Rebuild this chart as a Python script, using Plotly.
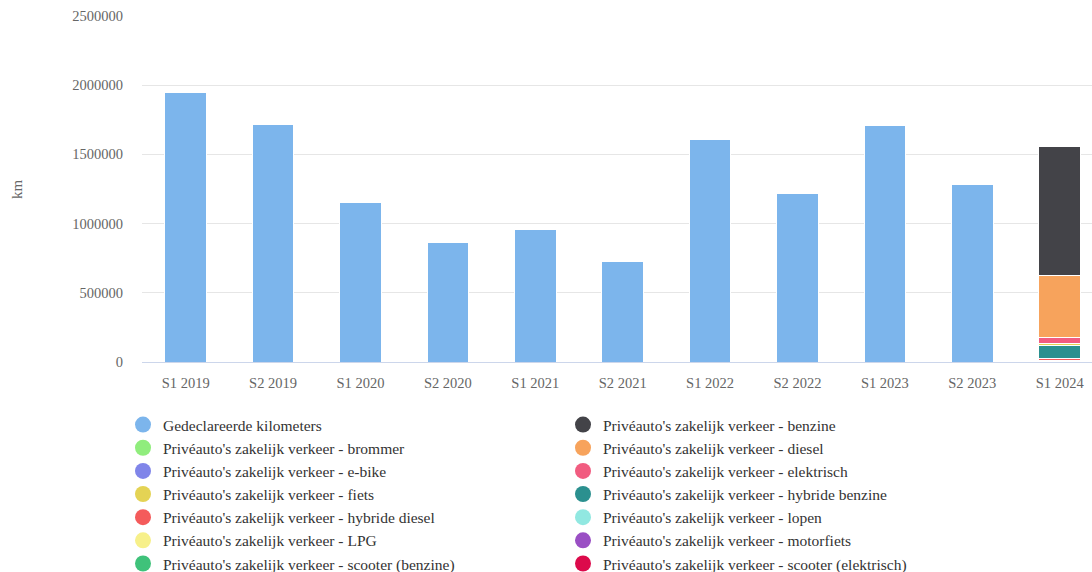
import plotly.graph_objects as go

categories = ["S1 2019", "S2 2019", "S1 2020", "S2 2020", "S1 2021", "S2 2021",
              "S1 2022", "S2 2022", "S1 2023", "S2 2023", "S1 2024"]

gedeclareerde = [1945000, 1717000, 1149000, 866000, 957000, 723000,
                 1611000, 1214000, 1707000, 1284000, None]

# S1 2024 breakdown (only period with per-vehicle data)
benzine = 930000
brommer = None
diesel = 447000
ebike = None
elektrisch = 43000
fiets = 14000
hybride_benzine = 96000
hybride_diesel = 14000
lopen = 5000
lpg = None
motorfiets = 6000
scooter_benzine = None
scooter_elektrisch = None

prefix = "Privéauto's zakelijk verkeer - "
series = [
    ("Gedeclareerde kilometers", gedeclareerde, "#7cb5ec"),
    (prefix + "benzine", benzine, "#434348"),
    (prefix + "brommer", brommer, "#90ed7d"),
    (prefix + "diesel", diesel, "#f7a35c"),
    (prefix + "e-bike", ebike, "#8085e9"),
    (prefix + "elektrisch", elektrisch, "#f15c80"),
    (prefix + "fiets", fiets, "#e4d354"),
    (prefix + "hybride benzine", hybride_benzine, "#2b908f"),
    (prefix + "hybride diesel", hybride_diesel, "#f45b5b"),
    (prefix + "lopen", lopen, "#91e8e1"),
    (prefix + "LPG", lpg, "#f7f08a"),
    (prefix + "motorfiets", motorfiets, "#9a4fc4"),
    (prefix + "scooter (benzine)", scooter_benzine, "#3fc27a"),
    (prefix + "scooter (elektrisch)", scooter_elektrisch, "#dc0a4b"),
]

FONT = "Liberation Serif, Times New Roman, serif"

fig = go.Figure()

# Highcharts stacks the first series on top -> add in reverse order
for name, vals, color in reversed(series):
    if isinstance(vals, list):
        y = vals
    else:
        y = [None] * (len(categories) - 1) + [vals]
    fig.add_trace(go.Bar(
        x=categories, y=y, name=name, legendgroup=name, showlegend=False,
        marker=dict(color=color, line=dict(color="#ffffff", width=1)),
        width=0.475,
        hovertemplate="%{x}<br>" + name + ": %{y}<extra></extra>",
    ))

# legend entries with circular symbols, in original order
for name, vals, color in series:
    fig.add_trace(go.Scatter(
        x=[None], y=[None], mode="markers", name=name, legendgroup=name,
        marker=dict(color=color, size=16, symbol="circle"),
        showlegend=True, hoverinfo="skip",
    ))

fig.update_layout(
    width=1092, height=572,
    margin=dict(l=142, r=0, t=16, b=210),
    paper_bgcolor="white", plot_bgcolor="white",
    barmode="stack",
    font=dict(family=FONT, color="#333333"),
    showlegend=True,
    legend=dict(
        orientation="h", xref="container", yref="container",
        x=123 / 1092, y=1 - 408 / 572, xanchor="left", yanchor="top",
        entrywidth=395, entrywidthmode="pixels",
        font=dict(family=FONT, size=15.5, color="#333333"),
        traceorder="normal", itemsizing="trace",
        bgcolor="rgba(0,0,0,0)",
    ),
    xaxis=dict(
        type="category", range=[-0.5, 10.37],
        showgrid=False, showline=True, linecolor="#ccd6eb", linewidth=1,
        ticks="", tickfont=dict(family=FONT, size=14.5, color="#666666"),
        ticklabelstandoff=8, fixedrange=True,
    ),
    yaxis=dict(
        range=[0, 2500000], tick0=0, dtick=500000, tickformat="d",
        showgrid=True, gridcolor="#e6e6e6", gridwidth=1,
        zeroline=False, showline=False, ticks="",
        tickfont=dict(family=FONT, size=14.5, color="#666666"),
        ticklabelstandoff=18, fixedrange=True,
    ),
    annotations=[dict(
        text="km", xref="paper", yref="paper", x=(17 - 142) / 950, y=0.5,
        xanchor="center", yanchor="middle", showarrow=False, textangle=-90,
        font=dict(family=FONT, size=15, color="#666666"),
    )],
)

fig.write_html(
    "out.html",
    config={"displayModeBar": False},
    post_script="document.body.style.margin='0';document.body.style.overflow='hidden';",
)
